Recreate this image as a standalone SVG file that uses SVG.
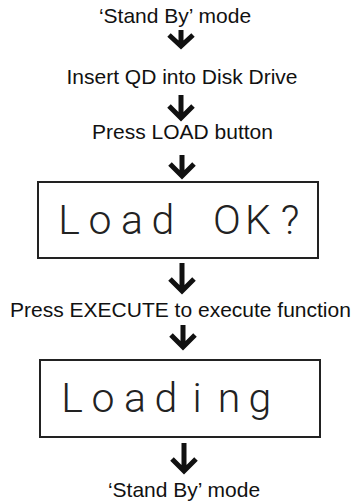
<svg xmlns="http://www.w3.org/2000/svg" width="362" height="501" viewBox="0 0 362 501">
  <style>
    .lbl { font-family: "Liberation Sans", Arial, sans-serif; font-size: 21px; fill: #111; text-anchor: middle; }
    .lcd { font-family: Roboto, "DejaVu Sans", sans-serif; font-weight: 300; font-size: 41px; fill: #222; text-anchor: middle; }
    .box { fill: none; stroke: #222; stroke-width: 2; }
    .arrow { fill: none; stroke: #111; stroke-width: 5; stroke-linejoin: miter; stroke-linecap: butt; }
  </style>
  <rect width="362" height="501" fill="#fff"/>
  <g id="step1"><text class="lbl" x="175" y="23">‘Stand By’ mode</text></g>
  <g id="step2"><text class="lbl" x="182" y="84">Insert QD into Disk Drive</text></g>
  <g id="step3"><text class="lbl" x="182.5" y="139">Press LOAD button</text></g>
  <g id="display1">
    <rect class="box" x="38" y="182" width="280" height="76"/>
    <text class="lcd" x="69 100 132 163 195 227 258 290" y="234">Load OK?</text>
  </g>
  <g id="step4"><text class="lbl" x="180.5" y="317">Press EXECUTE to execute function</text></g>
  <g id="display2">
    <rect class="box" x="40" y="360" width="280" height="77"/>
    <text class="lcd" x="72 103 135 166 197 229 260" y="412">Loading</text>
  </g>
  <g id="step5"><text class="lbl" x="184" y="497">‘Stand By’ mode</text></g>
  <g id="connectors">
    <path class="arrow" d="M181,30 V44 M169,35 L181,46 L193,35"/>
    <path class="arrow" d="M181,95 V116 M169,106 L181,118 L193,106"/>
    <path class="arrow" d="M182,155 V174 M170,164 L182,176 L194,164"/>
    <path class="arrow" d="M182,263 V289 M170,279 L182,291 L194,279"/>
    <path class="arrow" d="M183,325 V345 M171,335 L183,347 L195,335"/>
    <path class="arrow" d="M184,443 V469 M172,459 L184,471 L196,459"/>
  </g>
</svg>
